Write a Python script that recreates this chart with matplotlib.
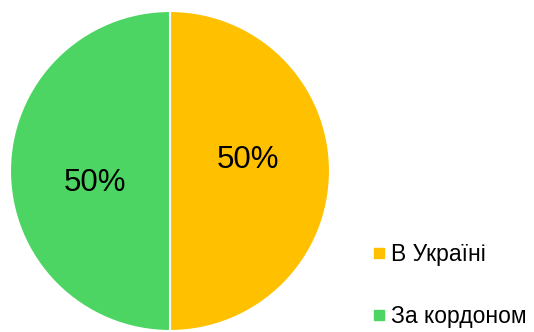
import matplotlib.pyplot as plt
from matplotlib.lines import Line2D

plt.rcParams['font.family'] = ['Liberation Sans', 'DejaVu Sans']

# Share of respondents by location
labels = ['В Україні', 'За кордоном']
shares = [50, 50]
colors = ['#FFC000', '#4CD563']

fig = plt.figure(figsize=(5.34, 3.32), dpi=100)
ax = fig.add_axes([10 / 534, 1 / 332, 320 / 534, 320 / 332])

wedges, texts, autotexts = ax.pie(
    shares, colors=colors, startangle=90, counterclock=False,
    autopct='%1.0f%%', pctdistance=0.47,
    wedgeprops=dict(edgecolor='white', linewidth=1.5),
    textprops=dict(fontsize=22.5, color='black'))
ax.set_xlim(-1, 1)
ax.set_ylim(-1, 1)
ax.set_aspect('equal')

# nudge the percentage labels the way they sit in the original layout
offsets = [(0.02, 0.07), (0.0, -0.075)]
for t, (dx, dy) in zip(autotexts, offsets):
    x, y = t.get_position()
    t.set_position((x + dx, y + dy))

handles = [Line2D([0], [0], marker='s', linestyle='none', markersize=7,
                  markerfacecolor=c, markeredgecolor=c) for c in colors]
fig.legend(handles, labels, loc='upper left', bbox_to_anchor=(358 / 534, 1 - 232 / 332),
           frameon=False, fontsize=16.5, labelspacing=1.7, handletextpad=0.15,
           handlelength=0.8, borderpad=0)

plt.savefig('out.png', dpi=100)
